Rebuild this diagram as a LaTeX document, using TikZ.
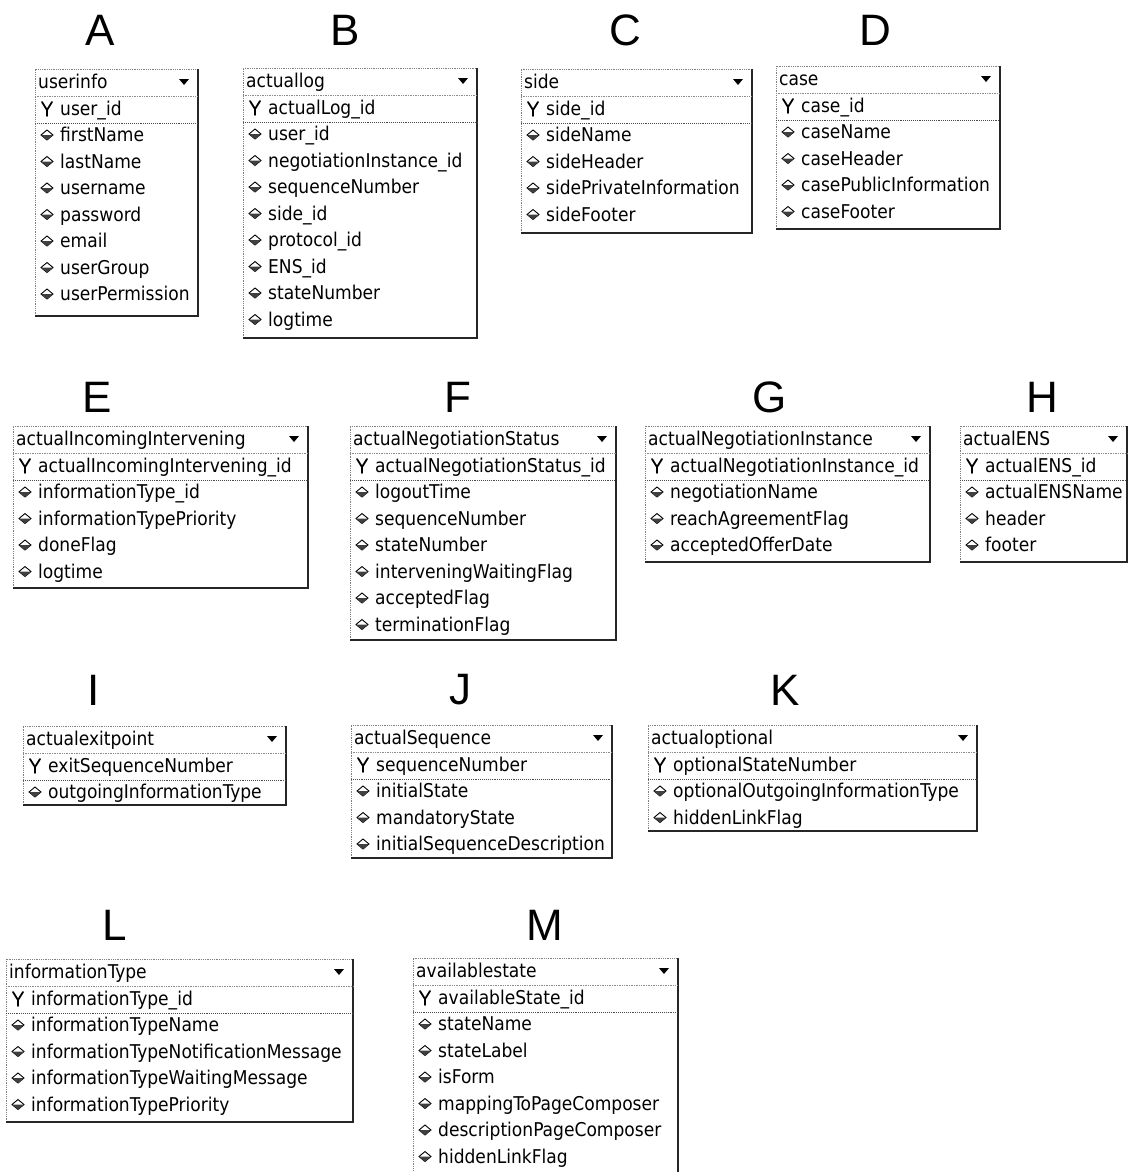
\documentclass[tikz,border=0pt]{standalone}
\usepackage{fontspec}
\setmainfont{Liberation Sans}
\newfontfamily\tblfont{DejaVu Sans Condensed}
\begin{document}
\begin{tikzpicture}[x=1pt,y=-1pt,
  lettr/.style={font=\fontsize{44}{44}\selectfont, inner sep=0pt},
  ttl/.style={font=\tblfont\fontsize{19}{20}\selectfont, anchor=base west, inner sep=0pt},
  fld/.style={font=\tblfont\fontsize{19}{20}\selectfont, anchor=base west, inner sep=0pt},
  thinedge/.style={draw=black!50, line width=0.8pt, densely dotted},
  thickedge/.style={draw=black!85, line width=2pt},
  titlesep/.style={draw=black!45, line width=0.7pt, densely dotted},
  keysep/.style={draw=black!70, line width=0.9pt, densely dotted},
  keyicon/.style={draw=black, line width=1.8pt, line cap=round},
  fieldicon/.style={draw=black, line width=0.9pt, fill=white},
]
\useasboundingbox (0,0) rectangle (1128,1172);

% #1 id, #2 left, #3 top, #4 right, #5 bottom, #6 title, #7 key column, #8 other columns
% text baselines sit 6.5 units below each row's centre line
\newcommand\erdtable[8]{%
  \draw[thinedge] (#2,#5) -- (#2,#3) -- (#4,#3);
  \draw[thickedge] (#4,#3) -- (#4,#5) -- (#2,#5);
  \node[ttl] (#1-title) at (#2+3,#3+19.5) {#6};
  \fill (#4-19,#3+10) -- (#4-9,#3+10) -- (#4-14,#3+16) -- cycle;
  \draw[titlesep] (#2,#3+27) -- (#4,#3+27);
  \draw[keyicon] (#2+7,#3+33) -- (#2+12,#3+41) -- (#2+17,#3+33);
  \draw[keyicon] (#2+12,#3+41) -- (#2+12,#3+47);
  \node[fld] (#1-key) at (#2+25,#3+46.5) {#7};
  \draw[keysep] (#2,#3+54) -- (#4,#3+54);
  \foreach \f [count=\i] in {#8} {
    \pgfmathsetmacro\yy{#3+66+(\i-1)*26.5}
    \draw[fieldicon] (#2+6,\yy) -- (#2+12,\yy-5) -- (#2+18,\yy) -- (#2+12,\yy+5) -- cycle;
    \fill[black!75] (#2+6,\yy) -- (#2+18,\yy) -- (#2+12,\yy+5) -- cycle;
    \node[fld] (#1-f\i) at (#2+25,\yy+6.5) {\f};
  }%
}

% panel letters
\node[lettr] (A) at (100,30) {A};
\node[lettr] (B) at (345,30) {B};
\node[lettr] (C) at (625,30) {C};
\node[lettr] (D) at (875,30) {D};
\node[lettr] (E) at (97,397) {E};
\node[lettr] (F) at (458,397) {F};
\node[lettr] (G) at (770,397) {G};
\node[lettr] (H) at (1042,397) {H};
\node[lettr] (I) at (94,690) {I};
\node[lettr] (J) at (460,690) {J};
\node[lettr] (K) at (785,690) {K};
\node[lettr] (L) at (115,925) {L};
\node[lettr] (M) at (545,925) {M};

% tables
\erdtable{tA}{35}{69}{198}{316}{userinfo}{user\_id}
  {firstName,lastName,username,password,email,userGroup,userPermission}
\erdtable{tB}{243}{68}{477}{338}{actuallog}{actualLog\_id}
  {user\_id,negotiationInstance\_id,sequenceNumber,side\_id,protocol\_id,ENS\_id,stateNumber,logtime}
\erdtable{tC}{521}{69}{752}{233}{side}{side\_id}
  {sideName,sideHeader,sidePrivateInformation,sideFooter}
\erdtable{tD}{776}{66}{1000}{229}{case}{case\_id}
  {caseName,caseHeader,casePublicInformation,caseFooter}
\erdtable{tE}{13}{426}{308}{588}{actualIncomingIntervening}{actualIncomingIntervening\_id}
  {informationType\_id,informationTypePriority,doneFlag,logtime}
\erdtable{tF}{350}{426}{616}{640}{actualNegotiationStatus}{actualNegotiationStatus\_id}
  {logoutTime,sequenceNumber,stateNumber,interveningWaitingFlag,acceptedFlag,terminationFlag}
\erdtable{tG}{645}{426}{930}{562}{actualNegotiationInstance}{actualNegotiationInstance\_id}
  {negotiationName,reachAgreementFlag,acceptedOfferDate}
\erdtable{tH}{960}{426}{1127}{562}{actualENS}{actualENS\_id}
  {actualENSName,header,footer}
\erdtable{tI}{23}{726}{286}{805}{actualexitpoint}{exitSequenceNumber}
  {outgoingInformationType}
\erdtable{tJ}{351}{725}{612}{858}{actualSequence}{sequenceNumber}
  {initialState,mandatoryState,initialSequenceDescription}
\erdtable{tK}{648}{725}{977}{831}{actualoptional}{optionalStateNumber}
  {optionalOutgoingInformationType,hiddenLinkFlag}
\erdtable{tL}{6}{959}{353}{1122}{informationType}{informationType\_id}
  {informationTypeName,informationTypeNotificationMessage,informationTypeWaitingMessage,informationTypePriority}
\erdtable{tM}{413}{958}{678}{1176}{availablestate}{availableState\_id}
  {stateName,stateLabel,isForm,mappingToPageComposer,descriptionPageComposer,hiddenLinkFlag}
\end{tikzpicture}
\end{document}
